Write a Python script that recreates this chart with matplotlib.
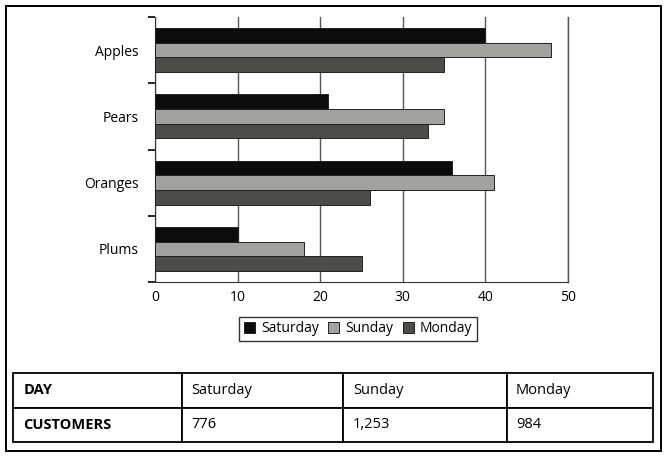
import matplotlib.pyplot as plt
import numpy as np
from matplotlib.patches import Rectangle

plt.rcParams['font.family'] = ['Open Sans', 'DejaVu Sans']

fruits = ['Apples', 'Pears', 'Oranges', 'Plums']
days = ['Saturday', 'Sunday', 'Monday']
saturday = [40, 21, 36, 10]
sunday = [48, 35, 41, 18]
monday = [35, 33, 26, 25]
customers = ['776', '1,253', '984']

colors = ['#0c0c0c', '#a2a29d', '#4d4d48']

fig = plt.figure(figsize=(6.68, 4.57), dpi=100)

# outer frame around the whole thing
fig.patches.append(Rectangle((6 / 668, 1 - 451 / 457), 655 / 668, 445 / 457,
                             transform=fig.transFigure, fill=False,
                             edgecolor='black', linewidth=1.4))

ax = fig.add_axes([155 / 668, 1 - 282 / 457, 413 / 668, 265 / 457])

y = np.arange(len(fruits))
h = 0.222
for i, (vals, c) in enumerate(zip([saturday, sunday, monday], colors)):
    ax.barh(y + (i - 1) * h, vals, height=h, color=c, edgecolor='#222222',
            linewidth=0.7, label=days[i], zorder=3)

ax.set_xlim(0, 50)
ax.set_ylim(3.5, -0.5)
ax.set_xticks(range(0, 51, 10))
ax.tick_params(axis='x', length=0, pad=6, labelsize=10)
ax.set_yticks(np.arange(-0.5, 4, 1))
ax.set_yticklabels([])
ax.tick_params(axis='y', which='major', direction='out', length=5, width=1.2,
               right=False)
ax.set_yticks(y, minor=True)
ax.set_yticklabels(fruits, minor=True, fontsize=10)
ax.tick_params(axis='y', which='minor', length=0, pad=12)

ax.xaxis.grid(True, color='#555555', linewidth=1)
ax.set_axisbelow(True)
ax.spines['top'].set_visible(False)
ax.spines['right'].set_color('#555555')
ax.spines['right'].set_linewidth(1)
ax.spines['left'].set_color('#333333')
ax.spines['bottom'].set_color('#333333')

leg = fig.legend(loc='center', bbox_to_anchor=(358 / 668, 1 - 329 / 457),
                 ncol=3, frameon=True, fancybox=False, edgecolor='black',
                 handlelength=0.8, handleheight=0.8, handletextpad=0.4,
                 columnspacing=0.7, borderpad=0.35, fontsize=10)
leg.get_frame().set_linewidth(1.0)

# customers table
tax = fig.add_axes([13 / 668, 1 - 442 / 457, 640 / 668, 69 / 457])
tax.axis('off')
cells = [['DAY'] + days, ['CUSTOMERS'] + customers]
widths = np.array([169, 161, 164, 146]) / 640
tbl = tax.table(cellText=cells, colWidths=widths, cellLoc='left',
                bbox=[0, 0, 1, 1])
tbl.auto_set_font_size(False)
for (r, c), cell in tbl.get_celld().items():
    cell.set_linewidth(1.3)
    cell.set_edgecolor('black')
    cell.PAD = 0.06
    cell.get_text().set_fontsize(10.5)
    if c == 0:
        cell.get_text().set_fontweight('bold')

fig.savefig('out.png', dpi=100)
